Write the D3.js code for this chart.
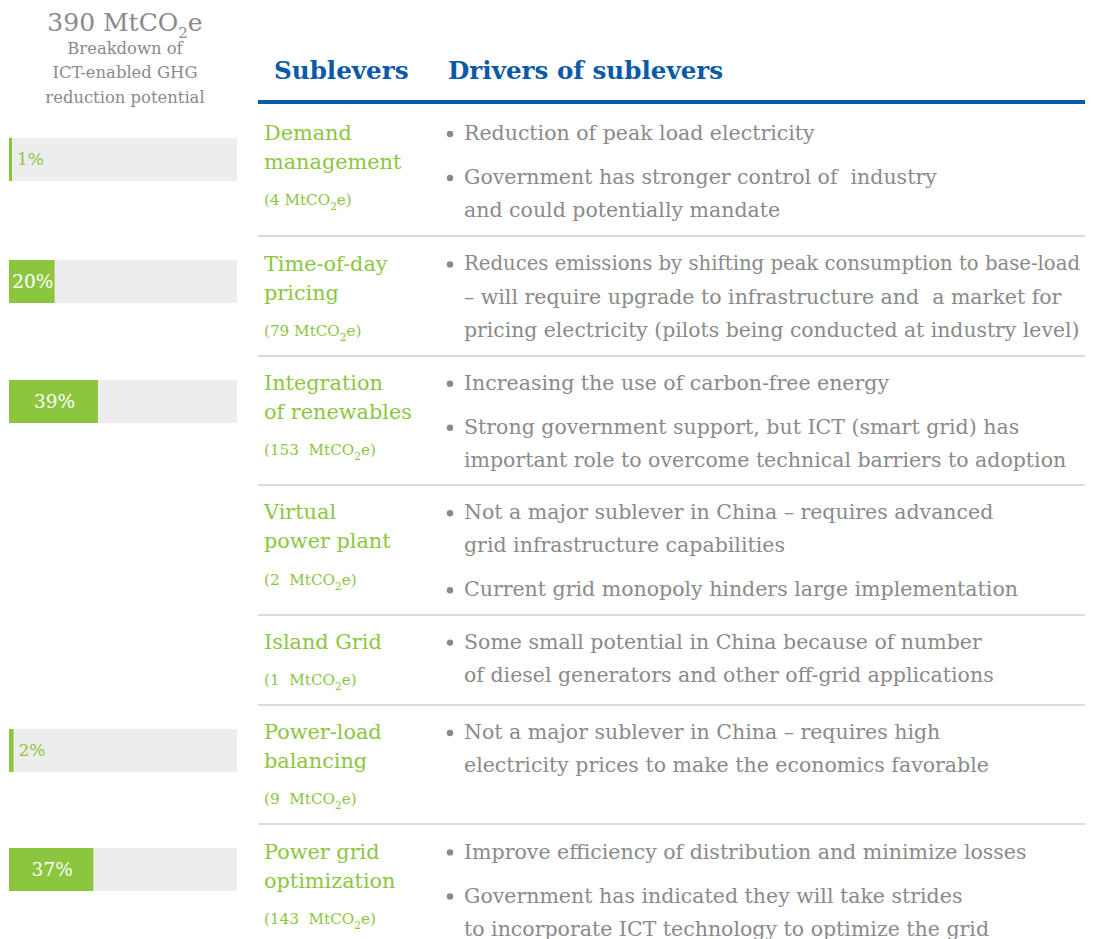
<!DOCTYPE html>
<html><head><meta charset="utf-8">
<script src="https://cdn.jsdelivr.net/npm/d3@7"></script>
<style>
html,body{margin:0;padding:0;background:#fff;}
text{font-family:"DejaVu Serif",serif;white-space:pre;}
</style></head>
<body>
<svg id="chart" width="1099" height="939"></svg>
<script>
// ---------- data ----------
const totalLabel = "390 MtCO";
const subtitleLines = ["Breakdown of", "ICT-enabled GHG", "reduction potential"];
const headers = ["Sublevers", "Drivers of sublevers"];
const sublevers = [
  ["Demand", "management"],
  ["Time-of-day", "pricing"],
  ["Integration", "of renewables"],
  ["Virtual", "power plant"],
  ["Island Grid"],
  ["Power-load", "balancing"],
  ["Power grid", "optimization"]
];
const amounts = [4, 79, 153, 2, 1, 9, 143];
const amountGap = [" ", " ", "  ", "  ", "  ", "  ", "  "];
const shares = [1, 20, 39, null, null, 2, 37];
const drivers = [
  [["Reduction of peak load electricity"],
   ["Government has stronger control of  industry", "and could potentially mandate"]],
  [["Reduces emissions by shifting peak consumption to base-load", "– will require upgrade to infrastructure and  a market for", "pricing electricity (pilots being conducted at industry level)"]],
  [["Increasing the use of carbon-free energy"],
   ["Strong government support, but ICT (smart grid) has", "important role to overcome technical barriers to adoption"]],
  [["Not a major sublever in China – requires advanced", "grid infrastructure capabilities"],
   ["Current grid monopoly hinders large implementation"]],
  [["Some small potential in China because of number", "of diesel generators and other off-grid applications"]],
  [["Not a major sublever in China – requires high", "electricity prices to make the economics favorable"]],
  [["Improve efficiency of distribution and minimize losses"],
   ["Government has indicated they will take strides", "to incorporate ICT technology to optimize the grid"]]
];

// ---------- style ----------
const GREEN = "#8cc63f", BLUE = "#0b5aa8", GRAY = "#8a8a8a", BARBG = "#ededed", SEP = "#dcdcdc";
const svg = d3.select("#chart");

// ---------- top-left header ----------
const t0 = svg.append("text").attr("x", 125).attr("y", 22).attr("dy", "0.35em")
  .attr("text-anchor", "middle").attr("fill", GRAY).style("font-size", "25px").text(totalLabel);
t0.append("tspan").attr("dy", 7).style("font-size", "15px").text("2");
t0.append("tspan").attr("dy", -7).text("e");
svg.selectAll("text.sub").data(subtitleLines).join("text").attr("class", "sub")
  .attr("x", 125).attr("y", (d, i) => 48 + i * 24.5).attr("dy", "0.35em")
  .attr("text-anchor", "middle").attr("fill", GRAY).style("font-size", "16.4px").text(d => d);

// ---------- table header ----------
const hx = [274, 448];
svg.selectAll("text.hdr").data(headers).join("text").attr("class", "hdr")
  .attr("x", (d, i) => hx[i]).attr("y", 70).attr("dy", "0.35em")
  .attr("fill", BLUE).style("font-size", "24.6px").style("font-weight", "bold").text(d => d);
const x0 = 258, x1 = 1085;
svg.append("line").attr("x1", x0).attr("x2", x1).attr("y1", 102).attr("y2", 102)
  .attr("stroke", BLUE).attr("stroke-width", 4);

// ---------- rows layout ----------
const NAME_LH = 29, SUB_GAP = 38, BUL_LH = 33, BUL_GAP = 44, PAD = 52.4;
let y = 102;
const rows = sublevers.map((name, i) => {
  const top = y;
  const first = y + (i === 0 ? 31 : 27);
  const nameLines = name.map((n, k) => ({ text: n, y: first + k * NAME_LH }));
  const subY = first + (name.length - 1) * NAME_LH + SUB_GAP;
  let by = first;
  const bullets = drivers[i].map((b, bi) => {
    if (bi > 0) by += BUL_GAP;
    const lines = b.map((l, li) => { if (li > 0) by += BUL_LH; return { text: l, y: by }; });
    return { y: lines[0].y, lines };
  });
  const span = Math.max(subY - first, by - first);
  y += span + PAD + (i === 0 ? 5 : 0);
  return { i, top, bottom: y, first, nameLines, subY, bullets };
});

// separators
svg.selectAll("line.sep").data(rows.slice(0, -1)).join("line").attr("class", "sep")
  .attr("x1", x0).attr("x2", x1).attr("y1", d => Math.round(d.bottom)).attr("y2", d => Math.round(d.bottom))
  .attr("stroke", SEP).attr("stroke-width", 2);

const g = svg.selectAll("g.row").data(rows).join("g").attr("class", "row");
// names
g.selectAll("text.name").data(d => d.nameLines).join("text").attr("class", "name")
  .attr("x", 264).attr("y", d => d.y).attr("dy", "0.35em").attr("fill", GREEN)
  .style("font-size", "20.8px").text(d => d.text);
// amount labels
g.each(function (d) {
  const t = d3.select(this).append("text").attr("x", 264).attr("y", d.subY).attr("dy", "0.35em")
    .attr("fill", GREEN).style("font-size", "15.2px")
    .text("(" + amounts[d.i] + amountGap[d.i] + "MtCO");
  t.append("tspan").attr("dy", 5).style("font-size", "10.5px").text("2");
  t.append("tspan").attr("dy", -5).text("e)");
});
// bullets
const BUL_FS = 20.5, MAX_W = 616;
const bl = g.selectAll("g.bul").data(d => d.bullets).join("g").attr("class", "bul");
bl.append("circle").attr("cx", 450).attr("cy", d => d.y + 1).attr("r", 3.2).attr("fill", GRAY);
bl.selectAll("text").data(d => d.lines).join("text").attr("x", 464).attr("y", d => d.y)
  .attr("dy", "0.35em").attr("fill", GRAY).style("font-size", BUL_FS + "px").text(d => d.text)
  .each(function () {
    const w = this.getComputedTextLength();
    if (w > MAX_W) d3.select(this).style("font-size", (BUL_FS * MAX_W / w).toFixed(2) + "px");
  });

// ---------- bars ----------
const xs = d3.scaleLinear().domain([0, 100]).range([0, 228]);
const BAR_X = 9, BAR_H = 43;
const barRows = rows.filter(r => shares[r.i] != null);
const bg = svg.selectAll("g.bar").data(barRows).join("g").attr("class", "bar")
  .attr("transform", d => `translate(${BAR_X},${Math.round(d.first - 3 + (d.i === 0 ? 8 : 0))})`);
bg.append("rect").attr("width", xs(100)).attr("height", BAR_H).attr("fill", BARBG);
bg.append("rect").attr("width", d => Math.max(3, xs(shares[d.i]))).attr("height", BAR_H).attr("fill", GREEN);
bg.append("text")
  .attr("x", d => { const w = xs(shares[d.i]); return w > 40 ? w / 2 + 1 : Math.max(3, w) + 5; })
  .attr("y", BAR_H / 2).attr("dy", "0.35em")
  .attr("text-anchor", d => xs(shares[d.i]) > 40 ? "middle" : "start")
  .attr("fill", d => xs(shares[d.i]) > 40 ? "#fff" : GREEN)
  .style("font-size", d => xs(shares[d.i]) > 40 ? "18.5px" : "17px")
  .text(d => shares[d.i] + "%");
</script>
</body></html>
